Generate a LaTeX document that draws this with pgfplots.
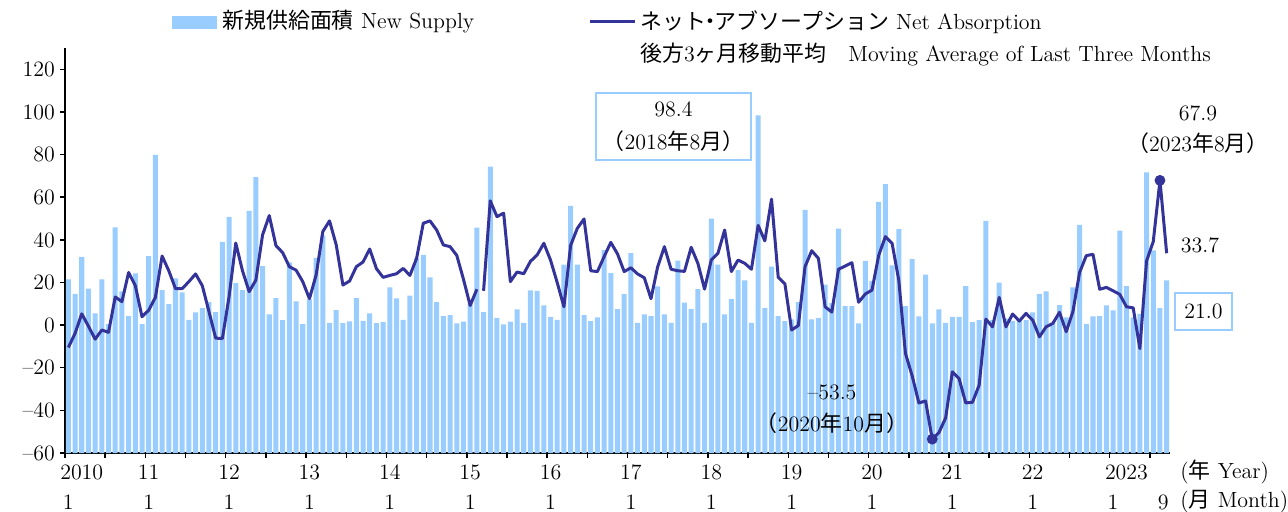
\documentclass[border=0pt]{standalone}
\usepackage{fontspec}
\usepackage{pgfplots}
\pgfplotsset{compat=1.18}
\usepackage{pgfplotstable}
\newfontfamily\cjk{Noto Sans CJK JP}
\definecolor{barblue}{RGB}{153,204,255}
\definecolor{lineblue}{RGB}{51,51,153}

\pgfplotstableread{
i s
0 21.5
1 14.6
2 32.0
3 17.1
4 5.5
5 21.5
6 0.5
7 45.9
8 15.8
9 4.2
10 24.3
11 0.5
12 32.4
13 79.9
14 16.4
15 9.9
16 21.9
17 15.4
18 2.5
19 6.0
20 8.0
21 10.8
22 6.1
23 39.0
24 50.8
25 19.7
26 16.4
27 53.6
28 69.4
29 27.7
30 5.0
31 12.7
32 2.3
33 29.4
34 11.1
35 0.5
36 12.1
37 31.5
38 42.0
39 1.1
40 7.0
41 0.9
42 1.7
43 12.7
44 2.0
45 5.5
46 0.9
47 1.4
48 17.7
49 12.5
50 2.5
51 13.8
52 31.3
53 32.9
54 22.4
55 10.8
56 4.2
57 4.7
58 0.8
59 1.6
60 9.9
61 45.7
62 6.1
63 74.4
64 3.4
65 0.3
66 1.6
67 7.4
68 1.1
69 16.3
70 16.0
71 9.2
72 3.9
73 2.5
74 28.4
75 55.9
76 28.4
77 4.7
78 1.9
79 3.6
80 35.2
81 24.4
82 7.5
83 14.6
84 33.8
85 1.1
86 5.0
87 4.2
88 18.2
89 5.0
90 1.1
91 30.2
92 10.5
93 7.5
94 16.9
95 1.1
96 50.0
97 28.4
98 5.0
99 12.2
100 25.8
101 21.0
102 1.1
103 98.4
104 8.1
105 27.4
106 4.2
107 1.9
108 2.7
109 10.8
110 54.0
111 2.7
112 3.4
113 19.0
114 10.3
115 45.3
116 8.9
117 8.9
118 0.8
119 30.1
120 20.7
121 57.8
122 66.1
123 28.0
124 45.0
125 8.9
126 31.0
127 4.1
128 23.7
129 0.8
130 7.4
131 1.1
132 3.9
133 3.9
134 18.3
135 1.4
136 2.3
137 48.9
138 2.3
139 19.9
140 3.0
141 2.0
142 2.0
143 2.3
144 6.0
145 14.6
146 15.8
147 1.0
148 9.4
149 3.6
150 17.7
151 47.0
152 0.6
153 4.1
154 4.2
155 9.2
156 6.9
157 44.3
158 18.3
159 3.6
160 5.3
161 71.7
162 35.1
163 8.0
164 21.0
}\supply

\pgfplotstableread{
i a
0 -10.5
1 -3.9
2 5.3
3 -0.5
4 -6.6
5 -2.3
6 -3.4
7 13.2
8 11.0
9 24.7
10 18.5
11 3.9
12 7.0
13 13.0
14 32.4
15 25.5
16 17.1
17 17.1
18 20.4
19 24.0
20 18.5
21 6.3
22 -6.1
23 -6.3
24 13.3
25 38.5
26 25.5
27 15.7
28 21.1
29 42.3
30 51.4
31 37.3
32 34.0
33 27.4
34 25.8
35 20.4
36 12.4
37 23.5
38 43.9
39 48.9
40 37.6
41 18.8
42 20.7
43 27.4
44 29.6
45 35.7
46 26.5
47 22.4
48 23.3
49 24.1
50 26.6
51 23.3
52 31.3
53 47.8
54 48.9
55 44.6
56 37.6
57 36.8
58 32.7
59 21.5
60 9.2
61 16.8
62 16.1
63 58.3
64 50.9
65 52.5
66 20.4
67 24.9
68 24.1
69 29.9
70 32.9
71 38.4
72 30.5
73 19.9
74 8.6
75 37.4
76 45.4
77 49.8
78 25.5
79 25.1
80 32.1
81 38.8
82 33.4
83 25.1
84 26.9
85 24.0
86 22.2
87 12.4
88 27.4
89 36.8
90 26.2
91 25.5
92 25.2
93 36.5
94 29.0
95 16.9
96 30.5
97 33.7
98 44.6
99 25.1
100 30.5
101 29.0
102 26.2
103 46.8
104 39.5
105 59.1
106 22.4
107 19.3
108 -2.3
109 -0.2
110 27.4
111 34.9
112 31.3
113 8.6
114 6.1
115 26.2
116 27.7
117 29.3
118 10.7
119 14.6
120 16.4
121 32.7
122 41.5
123 38.4
124 21.1
125 -13.3
126 -23.8
127 -36.5
128 -35.6
129 -53.5
130 -50.4
131 -43.5
132 -21.9
133 -25.1
134 -36.5
135 -36.2
136 -28.2
137 2.8
138 -0.8
139 13.0
140 -0.8
141 5.2
142 1.9
143 5.5
144 2.3
145 -5.5
146 -0.8
147 0.8
148 6.0
149 -3.1
150 6.3
151 24.7
152 32.6
153 33.2
154 16.8
155 17.7
156 16.1
157 14.4
158 8.6
159 8.1
160 -11.0
161 30.1
162 39.2
163 67.9
164 33.7
}\absorption

\begin{document}
\begin{tikzpicture}[font=\fontsize{11}{13}\selectfont]
\useasboundingbox (0,0) rectangle (644bp,256bp);
\begin{axis}[
  at={(32.5bp,29.5bp)}, anchor=south west,
  scale only axis, width=552.5bp, height=202.5bp,
  xmin=-0.5, xmax=164.5, ymin=0, ymax=190,
  axis lines=left,
  axis line style={-, line width=0.75bp, black},
  tick align=outside, major tick length=2.5bp,
  tick style={line width=0.75bp, black},
  xtick={-0.5,5.5,...,161.5}, xticklabels={},
  ytick={0,20,...,180},
  yticklabels={\textendash60,\textendash40,\textendash20,0,20,40,60,80,100,120},
  yticklabel style={xshift=1bp},
  clip=false,
]
\addplot[ybar, bar width=0.75, fill=barblue, draw=none]
  table[x=i, y expr=\thisrow{s}+60] {\supply};
\addplot[lineblue, line width=1.5bp, no marks, line join=round, restrict x to domain=0:61]
  table[x=i, y expr=\thisrow{a}+60] {\absorption};
\addplot[lineblue, line width=1.5bp, no marks, line join=round, restrict x to domain=62:164]
  table[x=i, y expr=\thisrow{a}+60] {\absorption};
\addplot[only marks, mark=*, mark size=2.5bp, color=lineblue] coordinates {(129,6.5) (163,127.9)};

% x labels
\node at (axis cs:2,0) [yshift=-9.5bp] {2010};
\node at (axis cs:12,0) [yshift=-9.5bp] {11};
\node at (axis cs:24,0) [yshift=-9.5bp] {12};
\node at (axis cs:36,0) [yshift=-9.5bp] {13};
\node at (axis cs:48,0) [yshift=-9.5bp] {14};
\node at (axis cs:60,0) [yshift=-9.5bp] {15};
\node at (axis cs:72,0) [yshift=-9.5bp] {16};
\node at (axis cs:84,0) [yshift=-9.5bp] {17};
\node at (axis cs:96,0) [yshift=-9.5bp] {18};
\node at (axis cs:108,0) [yshift=-9.5bp] {19};
\node at (axis cs:120,0) [yshift=-9.5bp] {20};
\node at (axis cs:132,0) [yshift=-9.5bp] {21};
\node at (axis cs:144,0) [yshift=-9.5bp] {22};
\node at (axis cs:158,0) [yshift=-9.5bp] {2023};
\node at (axis cs:0,0) [yshift=-24.5bp] {1};
\node at (axis cs:12,0) [yshift=-24.5bp] {1};
\node at (axis cs:24,0) [yshift=-24.5bp] {1};
\node at (axis cs:36,0) [yshift=-24.5bp] {1};
\node at (axis cs:48,0) [yshift=-24.5bp] {1};
\node at (axis cs:60,0) [yshift=-24.5bp] {1};
\node at (axis cs:72,0) [yshift=-24.5bp] {1};
\node at (axis cs:84,0) [yshift=-24.5bp] {1};
\node at (axis cs:96,0) [yshift=-24.5bp] {1};
\node at (axis cs:108,0) [yshift=-24.5bp] {1};
\node at (axis cs:120,0) [yshift=-24.5bp] {1};
\node at (axis cs:132,0) [yshift=-24.5bp] {1};
\node at (axis cs:144,0) [yshift=-24.5bp] {1};
\node at (axis cs:156,0) [yshift=-24.5bp] {1};
\node at (axis cs:163.5,0) [yshift=-24.5bp] {9};
\end{axis}

% legend
\fill[barblue] (86bp,241.5bp) rectangle (108.5bp,248bp);
\node[anchor=west, inner sep=0pt] at (111bp,245bp) {{\cjk 新規供給面積} New Supply};
\draw[lineblue, line width=1.5bp] (295bp,245bp) -- (317.5bp,245bp);
\node[anchor=west, inner sep=0pt] at (320bp,245bp) {{\cjk ネット\kern-0.3em・\kern-0.3emアブソープション} Net Absorption};
\node[anchor=west, inner sep=0pt] at (320bp,228.5bp) {{\cjk 後方}3{\cjk ヶ月移動平均}\quad Moving Average of Last Three Months};

% annotations
\node[draw=barblue, line width=0.75bp, minimum width=71.5bp, minimum height=33.5bp, align=center,
      font=\fontsize{11}{16.5}\selectfont, fill=white] at (336.75bp,192.75bp)
  {98.4\\{\cjk （}2018{\cjk 年}8{\cjk 月）}};
\node[align=center, font=\fontsize{11}{16}\selectfont] at (416bp,51.5bp)
  {\textendash53.5\\{\cjk （}2020{\cjk 年}10{\cjk 月）}};
\node[align=center, font=\fontsize{11}{15.5}\selectfont] at (599bp,191bp)
  {67.9\\{\cjk （}2023{\cjk 年}8{\cjk 月）}};
\node at (600bp,133.5bp) {33.7};
\node[draw=barblue, line width=0.75bp, minimum width=28.5bp, minimum height=18.5bp, inner sep=1bp]
  at (601.75bp,100.25bp) {21.0};
\node[anchor=west, inner sep=0pt] at (590bp,20bp) {({\cjk 年} Year)};
\node[anchor=west, inner sep=0pt] at (590bp,5bp) {({\cjk 月} Month)};
\end{tikzpicture}
\end{document}
